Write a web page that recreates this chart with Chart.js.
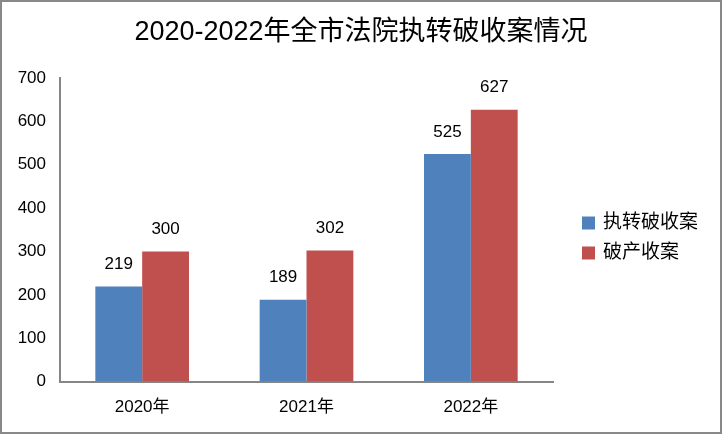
<!DOCTYPE html>
<html>
<head>
<meta charset="utf-8">
<script src="https://cdn.jsdelivr.net/npm/chart.js@4"></script>
<style>
  html, body { margin: 0; padding: 0; background: #fff; }
  #wrap { width: 722px; height: 434px; box-sizing: border-box; border: 2px solid #888; }
</style>
</head>
<body>
<div id="wrap"><canvas id="c" width="718" height="430"></canvas></div>
<script>
// chart data
const categories = ['2020年', '2021年', '2022年'];
const seriesNames = ['执转破收案', '破产收案'];
const zhuanpo = [219, 189, 525];
const pochan = [300, 302, 627];
const colors = ['#4F81BD', '#C0504D'];
const titleText = '2020-2022年全市法院执转破收案情况';

const FONT = "'Liberation Sans', 'Noto Sans CJK SC', sans-serif";

// draw value above each bar
const barLabels = {
  id: 'barLabels',
  afterDatasetsDraw(chart) {
    const ctx = chart.ctx;
    ctx.save();
    ctx.font = '17px ' + FONT;
    ctx.fillStyle = '#000';
    ctx.textAlign = 'center';
    ctx.textBaseline = 'middle';
    chart.data.datasets.forEach((ds, i) => {
      chart.getDatasetMeta(i).data.forEach((bar, j) => {
        ctx.fillText(ds.data[j], bar.x, bar.y - 22);
      });
    });
    ctx.restore();
  }
};

// title centred on the whole picture, legend on the right
const titleAndLegend = {
  id: 'titleAndLegend',
  afterDraw(chart) {
    const ctx = chart.ctx;
    const area = chart.chartArea;
    ctx.save();
    ctx.fillStyle = '#000';
    ctx.textAlign = 'center';
    ctx.textBaseline = 'middle';
    ctx.font = '27px ' + FONT;
    ctx.fillText(titleText, chart.width / 2, 31);

    ctx.textAlign = 'left';
    ctx.font = '19px ' + FONT;
    seriesNames.forEach((name, i) => {
      const y = 221 + i * 30;
      ctx.fillStyle = colors[i];
      ctx.fillRect(area.right + 29, y - 6.5, 13, 13);
      ctx.fillStyle = '#000';
      ctx.fillText(name, area.right + 50, y);
    });
    ctx.restore();
  }
};

new Chart(document.getElementById('c'), {
  type: 'bar',
  data: {
    labels: categories,
    datasets: [
      { label: seriesNames[0], data: zhuanpo, backgroundColor: colors[0] },
      { label: seriesNames[1], data: pochan, backgroundColor: colors[1] }
    ]
  },
  options: {
    responsive: false,
    animation: false,
    devicePixelRatio: 1,
    layout: { padding: { left: 1, right: 167, top: 76, bottom: -2 } },
    datasets: { bar: { barPercentage: 1, categoryPercentage: 0.57 } },
    scales: {
      x: {
        grid: { display: false, drawTicks: false },
        border: { color: '#868686', width: 2 },
        ticks: { color: '#000', font: { family: FONT, size: 17 }, padding: 16 }
      },
      y: {
        min: 0, max: 700,
        afterFit(scale) { scale.width = 57; },
        grid: { display: false, drawTicks: false },
        border: { color: '#868686', width: 2 },
        ticks: { stepSize: 100, color: '#000', font: { family: FONT, size: 17 }, padding: 14 }
      }
    },
    plugins: {
      title: { display: false },
      legend: { display: false },
      tooltip: { enabled: false }
    }
  },
  plugins: [barLabels, titleAndLegend]
});
</script>
</body>
</html>
